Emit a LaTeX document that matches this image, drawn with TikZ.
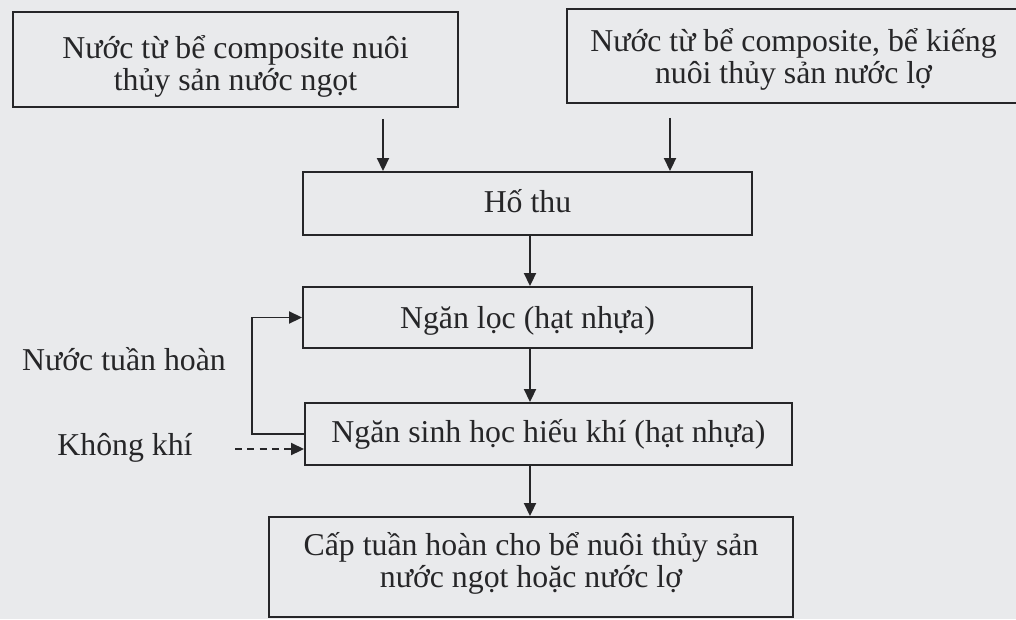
\documentclass[tikz,border=0pt]{standalone}
\usepackage{fontspec}
\setmainfont{Liberation Serif}
\usetikzlibrary{positioning,arrows.meta,calc}
\definecolor{paper}{RGB}{233,234,236}
\definecolor{ink}{RGB}{38,38,40}
\newlength\pxu
\setlength{\pxu}{0.02cm}
% lines of a box, last baseline lowered by #1 below the box centre
\newcommand\inbox[2]{\raisebox{#1}[0pt][0pt]{\vbox{\lineskiplimit=-\maxdimen\baselineskip=31.5\pxu\halign{\hfil##\hfil\cr#2\crcr}}}}
\tikzset{
  box/.style={draw=ink, line width=1.1pt, inner sep=0pt, text=ink, font=\fontsize{18.1}{18.4}\selectfont},
  lbl/.style={text=ink, inner sep=0pt, anchor=base, font=\fontsize{18.1}{18.4}\selectfont},
  arrow/.style={-{Triangle[length=0.26cm,width=0.24cm]}, line width=1.1pt, draw=ink},
  airarrow/.style={-{Triangle[length=0.26cm,width=0.24cm]}, line width=1.1pt, draw=ink, dash pattern=on 4pt off 3pt}
}

\begin{document}
\begin{tikzpicture}[x=0.02cm, y=-0.02cm]
  \fill[paper] (0,0) rectangle (1016,619);
  \useasboundingbox (0,0) rectangle (1016,619);
  \node[box, minimum width=445\pxu, minimum height=95\pxu] (fresh) at (235.5,59.5) {\inbox{-30.5\pxu}{Nước từ bể composite nuôi\cr thủy sản nước ngọt}};
  \node[box, minimum width=453\pxu, minimum height=94\pxu] (brack) at (793.5,56) {\inbox{-27\pxu}{Nước từ bể composite, bể kiếng\cr nuôi thủy sản nước lợ}};
  \node[box, minimum width=449\pxu, minimum height=63\pxu] (sump) at (527.5,203.5) {\inbox{-8.5\pxu}{Hố thu}};
  \node[box, minimum width=449\pxu, minimum height=61\pxu] (filt) at (527.5,317.5) {\inbox{-11\pxu}{Ngăn lọc (hạt nhựa)}};
  \node[box, minimum width=487\pxu, minimum height=62\pxu] (bio) at (548.5,434) {\inbox{-8\pxu}{Ngăn sinh học hiếu khí (hạt nhựa)}};
  \node[box, minimum width=524\pxu, minimum height=100\pxu] (supply) at (531,567) {\inbox{-20\pxu}{Cấp tuần hoàn cho bể nuôi thủy sản\cr nước ngọt hoặc nước lợ}};
  \node[lbl] (recirc) at (124,370) {Nước tuần hoàn};
  \node[lbl] (air) at (125,455) {Không khí};
  \coordinate (spine) at (530,0);
  \coordinate (airin) at (235,449);
  \draw[arrow, shorten <=11\pxu] (383,0 |- fresh.south) -- (383,0 |- sump.north);
  \draw[arrow, shorten <=14\pxu] (670,0 |- brack.south) -- (670,0 |- sump.north);
  \foreach \a/\b in {sump/filt,filt/bio,bio/supply}
    \draw[arrow] (\a.south -| spine) -- (\b.north -| spine);
  \draw[arrow] (bio.west) -- ++(-52,0) |- (filt.west);
  \draw[airarrow] (airin) -- (airin -| bio.west);
\end{tikzpicture}
\end{document}
